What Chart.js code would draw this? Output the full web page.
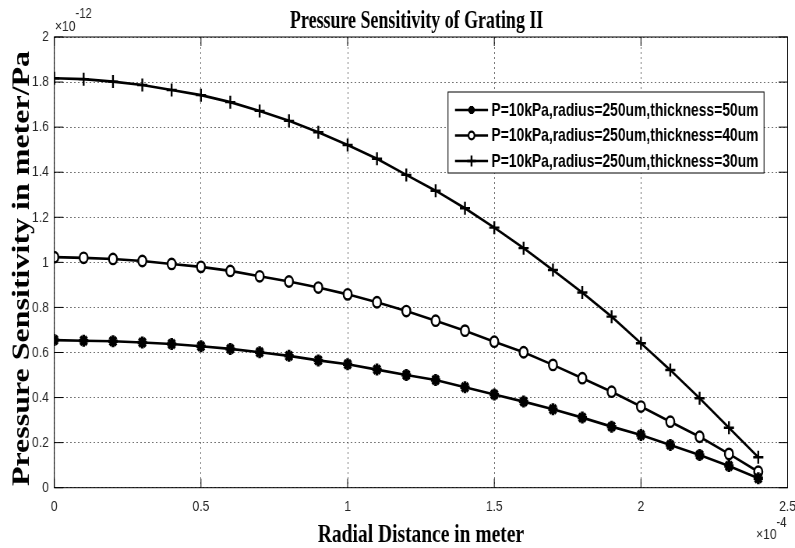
<!DOCTYPE html>
<html>
<head>
<meta charset="utf-8">
<script src="https://cdn.jsdelivr.net/npm/chart.js@4.4.1/dist/chart.umd.min.js"></script>
<style>
html,body{margin:0;padding:0;background:#fff;}
canvas{display:block;}
</style>
</head>
<body>
<canvas id="c" width="1020" height="548" style="width:795px;height:548px"></canvas>
<script>
// Radial distance (x 1e-4 m)
const radialDistance = [0,0.1,0.2,0.3,0.4,0.5,0.6,0.7,0.8,0.9,1.0,1.1,1.2,1.3,1.4,1.5,1.6,1.7,1.8,1.9,2.0,2.1,2.2,2.3,2.4];
// Pressure sensitivity (x 1e-12 m/Pa)
const thickness50 = [0.655,0.652,0.650,0.644,0.638,0.628,0.616,0.601,0.585,0.565,0.548,0.524,0.500,0.478,0.446,0.414,0.382,0.348,0.311,0.271,0.234,0.190,0.145,0.096,0.042];
const thickness40 = [1.023,1.020,1.015,1.006,0.993,0.980,0.962,0.938,0.915,0.888,0.858,0.823,0.784,0.741,0.697,0.648,0.601,0.545,0.486,0.426,0.360,0.293,0.226,0.150,0.071];
const thickness30 = [1.817,1.813,1.802,1.787,1.765,1.742,1.711,1.672,1.628,1.577,1.521,1.460,1.388,1.318,1.240,1.154,1.063,0.966,0.866,0.759,0.641,0.522,0.397,0.266,0.135];
const seriesLabels = ["P=10kPa,radius=250um,thickness=50um","P=10kPa,radius=250um,thickness=40um","P=10kPa,radius=250um,thickness=30um"];
const xTicks = [0,0.5,1,1.5,2,2.5];
const yTicks = [0,0.2,0.4,0.6,0.8,1,1.2,1.4,1.6,1.8,2];
const xTickLabels = ["0","0.5","1","1.5","2","2.5"];
const yTickLabels = ["0","0.2","0.4","0.6","0.8","1","1.2","1.4","1.6","1.8","2"];
const chartTitle = "Pressure Sensitivity of Grating II";
const xTitle = "Radial Distance in meter";
const yTitle = "Pressure Sensitivity in meter/Pa";
const xExponent = "-4";
const yExponent = "-12";

const SX = 795/1020; // horizontal compression of the page
const L = px => px / SX; // screen px -> logical x

const toPoints = arr => arr.map((v,i) => ({x: radialDistance[i], y: v}));

const markerStyles = [
  {pointStyle:'star', radius:6, borderWidth:3.5, backgroundColor:'#000'},
  {pointStyle:'circle', radius:5.2, borderWidth:2.4, backgroundColor:'#fff'},
  {pointStyle:'cross', radius:6.5, borderWidth:2.4, backgroundColor:'#000'}
];
const seriesData = [thickness50, thickness40, thickness30];

const datasets = seriesData.map((arr,i) => ({
  label: seriesLabels[i],
  data: toPoints(arr),
  borderColor:'#000',
  borderWidth:2.6,
  pointStyle: markerStyles[i].pointStyle,
  pointRadius: markerStyles[i].radius,
  pointBorderWidth: markerStyles[i].borderWidth,
  pointBackgroundColor: markerStyles[i].backgroundColor,
  pointBorderColor:'#000',
  fill:false,
  tension:0
}));

const decor = {
  id:'decor',
  beforeDraw(chart){
    const ctx = chart.ctx;
    ctx.save();
    ctx.fillStyle = '#fff';
    ctx.fillRect(0,0,chart.width,chart.height);
    ctx.restore();
  },
  afterDraw(chart){
    const {ctx, chartArea:a, scales:{x,y}} = chart;
    ctx.save();
    // box
    ctx.strokeStyle = '#000';
    ctx.lineWidth = 1;
    ctx.setLineDash([]);
    ctx.strokeRect(a.left, a.top, a.right-a.left, a.bottom-a.top);
    // inner tick marks
    ctx.beginPath();
    xTicks.forEach(v => {
      const p = x.getPixelForValue(v);
      ctx.moveTo(p, a.bottom); ctx.lineTo(p, a.bottom-9);
      ctx.moveTo(p, a.top); ctx.lineTo(p, a.top+9);
    });
    yTicks.forEach(v => {
      const p = y.getPixelForValue(v);
      ctx.moveTo(a.left, p); ctx.lineTo(a.left+L(9), p);
      ctx.moveTo(a.right, p); ctx.lineTo(a.right-L(9), p);
    });
    ctx.stroke();

    // title
    ctx.fillStyle = '#000';
    ctx.textBaseline = 'alphabetic';
    ctx.save();
    ctx.translate(L(290), 27.5);
    ctx.scale(0.92, 1);
    ctx.font = 'bold 25px "Liberation Serif"';
    ctx.textAlign = 'left';
    ctx.fillText(chartTitle, 0, 0);
    ctx.restore();
    // x title
    const cx = (a.left + a.right)/2;
    ctx.font = 'bold 25px "Liberation Serif"';
    ctx.textAlign = 'center';
    ctx.fillText(xTitle, cx, 541.5);
    // y title
    ctx.save();
    ctx.translate(L(28.5), 268.5);
    ctx.rotate(-Math.PI/2);
    ctx.font = 'bold 32px "Liberation Serif"';
    ctx.textAlign = 'center';
    ctx.fillText(yTitle, 0, 0);
    ctx.restore();

    // exponent labels
    ctx.fillStyle = '#262626';
    ctx.textAlign = 'left';
    ctx.textBaseline = 'alphabetic';
    ctx.font = '15.5px "Liberation Sans"';
    let w = ctx.measureText('\u00d710').width;
    ctx.fillText('\u00d710', L(55), 31);
    ctx.font = '14.5px "Liberation Sans"';
    ctx.fillText(yExponent, L(55)+w, 18);
    ctx.font = '15.5px "Liberation Sans"';
    w = ctx.measureText('\u00d710').width;
    ctx.fillText('\u00d710', L(756), 539);
    ctx.font = '14.5px "Liberation Sans"';
    ctx.fillText(xExponent, L(756)+w, 527);

    // legend
    const bx0 = L(448), bx1 = L(764), by0 = 92, by1 = 173;
    ctx.fillStyle = '#fff';
    ctx.fillRect(bx0, by0, bx1-bx0, by1-by0);
    ctx.strokeStyle = '#000';
    ctx.lineWidth = 1;
    ctx.strokeRect(bx0, by0, bx1-bx0, by1-by0);
    const rows = [110, 135.5, 161];
    const legendMarkers = [
      {pointStyle:'star', radius:4, borderWidth:3.2, rotation:0},
      {pointStyle:'circle', radius:3.8, borderWidth:2.2, rotation:0},
      {pointStyle:'cross', radius:5.5, borderWidth:2.4, rotation:0}
    ];
    rows.forEach((ry,i) => {
      ctx.strokeStyle = '#000';
      ctx.lineWidth = 2.6;
      ctx.beginPath();
      ctx.moveTo(L(455), ry); ctx.lineTo(L(488), ry);
      ctx.stroke();
      ctx.fillStyle = markerStyles[i].backgroundColor;
      ctx.strokeStyle = '#000';
      ctx.lineWidth = legendMarkers[i].borderWidth;
      Chart.helpers.drawPoint(ctx, legendMarkers[i], L(471.5), ry);
      ctx.fillStyle = '#000';
      ctx.font = 'bold 17.8px "Liberation Sans"';
      ctx.textAlign = 'left';
      ctx.textBaseline = 'middle';
      ctx.fillText(seriesLabels[i], L(491.5), ry+1);
    });
    ctx.restore();
  }
};

const gridCommon = {color:'rgba(0,0,0,0.55)', lineWidth:1, drawTicks:false};

new Chart(document.getElementById('c'), {
  type:'line',
  data:{datasets},
  options:{
    responsive:false,
    animation:false,
    devicePixelRatio:1,
    layout:{padding:{top:37, right:L(795-788.5), bottom:0, left:0}},
    plugins:{legend:{display:false}, title:{display:false}, tooltip:{enabled:false}},
    events:[],
    scales:{
      x:{
        type:'linear', min:0, max:2.5,
        afterBuildTicks: s => { s.ticks = xTicks.map(v => ({value:v})); },
        afterFit: s => { s.height = 548-487.7; s.paddingLeft = 0; s.paddingRight = 0; },
        grid: gridCommon,
        border:{display:false, dash:[2,3]},
        ticks:{padding:10, color:'#262626', font:{family:'Liberation Sans', size:15.5}, maxRotation:0,
          callback:(v,i) => xTickLabels[i]}
      },
      y:{
        type:'linear', min:0, max:2,
        afterBuildTicks: s => { s.ticks = yTicks.map(v => ({value:v})); },
        afterFit: s => { s.width = L(54.3); s.paddingTop = 0; s.paddingBottom = 0; },
        grid: gridCommon,
        border:{display:false, dash:[2,3]},
        ticks:{padding:L(5.5), color:'#262626', font:{family:'Liberation Sans', size:15.5},
          callback:(v,i) => yTickLabels[i]}
      }
    }
  },
  plugins:[decor]
});
</script>
</body>
</html>
